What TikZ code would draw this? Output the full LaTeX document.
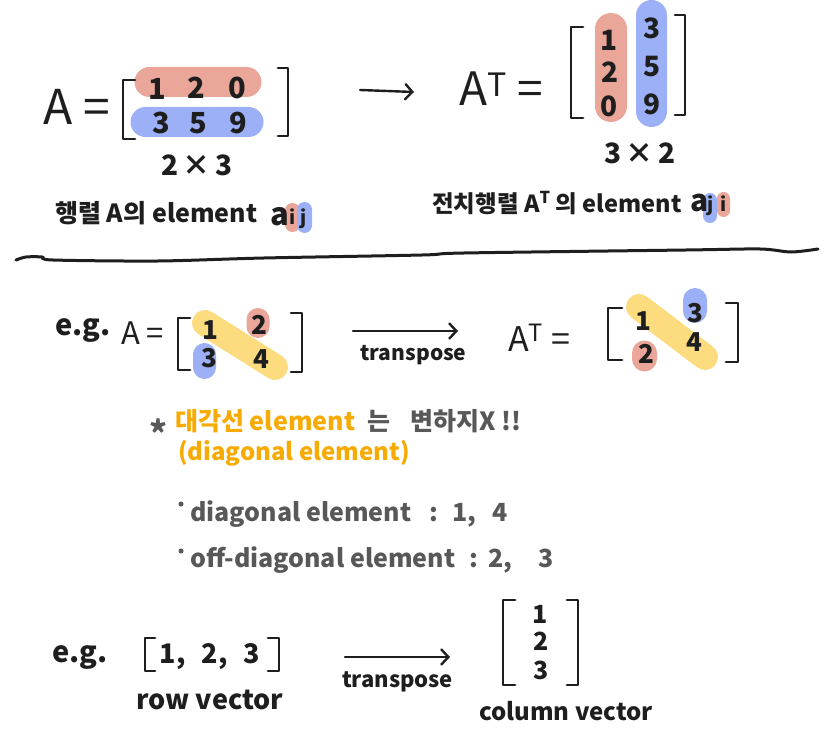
\documentclass[tikz,border=0pt]{standalone}
\usepackage{fontspec}
\setmainfont{Noto Sans CJK KR}
\usetikzlibrary{arrows.meta,positioning}
\definecolor{ink}{RGB}{30,30,30}
\definecolor{greyink}{RGB}{88,88,88}
\definecolor{hlorange}{RGB}{247,170,0}
\definecolor{pillred}{RGB}{234,166,153}
\definecolor{pillblue}{RGB}{155,176,246}
\definecolor{pillyellow}{RGB}{253,220,128}

\begin{document}
\begin{tikzpicture}[x=1pt,y=-1pt,
    every node/.style={inner sep=0pt,text=ink},
    fs/.style={font=\fontsize{#1}{#1}\selectfont\bfseries},
    fsr/.style={font=\fontsize{#1}{#1}\selectfont},
    pill/.style={rectangle,draw=none,rounded corners=#1},
    pill/.default=11pt,
    brk/.style={draw=ink,line width=2.8pt,line cap=round,line join=round},
    arr/.style={draw=ink,line width=2.4pt,line cap=round,
      -{Straight Barb[length=7pt,width=15pt,line cap=round]}},
    diag/.style={draw=pillyellow,line width=26pt,line cap=round},
    rule/.style={draw=ink,line width=3pt,line cap=round}]
  \useasboundingbox (0,0) rectangle (827,735);
  \fill[white] (0,0) rectangle (827,735);

  % A (2x3)
  \node[fsr=48] (A1) at (77,107) {A =};
  \node[pill=15pt,fill=pillred,minimum width=127pt,minimum height=30pt] (row1) at (198,82) {};
  \node[pill=15pt,fill=pillblue,minimum width=133pt,minimum height=30pt] (row2) at (197,122) {};
  \draw[brk] (135,80) -- (123,80) -- (123,139) -- (135,139);
  \draw[brk] (278,68) -- (288,68) -- (288,136) -- (278,136);
  \node[fs=29] (a11) at (157,89) {1};
  \node[fs=29] (a12) at (196,88) {2};
  \node[fs=29] (a13) at (237,88) {0};
  \node[fs=29] (a21) at (161,123) {3};
  \node[fs=29] (a22) at (198,123) {5};
  \node[fs=29] (a23) at (238,123) {9};
  \node[fs=28,below=17pt of row2] (dimA) {2\,×\,3};

  \node[fs=25,anchor=base west] (capA) at (55,223) {행렬 A의 element};
  \node[pill=7.5pt,fill=pillred,minimum width=15pt,minimum height=29pt] (pi1) at (292.5,217.5) {};
  \node[pill=7.5pt,fill=pillblue,minimum width=15pt,minimum height=31pt] (pj1) at (304.5,217.5) {};
  \node[fs=31,anchor=base west] (el1) at (270,226) {a};
  \node[fs=19,anchor=base] (i1) at (292.5,225) {i};
  \node[fs=19,anchor=base] (j1) at (304,225) {j};

  % arrow
  \coordinate (ar1s) at (360,90);
  \coordinate (ar1e) at (414,92);
  \draw[arr] (ar1s) -- (ar1e);

  % A^T (3x2)
  \node[fsr=46,anchor=base west] (AT1) at (459,106) {A\textsuperscript{T} =};
  \node[pill=16pt,fill=pillred,minimum width=32pt,minimum height=109pt] (col1) at (611,67.5) {};
  \node[pill=15.5pt,fill=pillblue,minimum width=31pt,minimum height=127pt] (col2) at (651.5,63.5) {};
  \draw[brk] (583,27) -- (571,27) -- (571,118) -- (583,118);
  \draw[brk] (675,15) -- (685,15) -- (685,115) -- (675,115);
  \node[fs=28] (b11) at (609,40) {1};
  \node[fs=28] (b21) at (610,72) {2};
  \node[fs=28] (b31) at (609,106) {0};
  \node[fs=28] (b12) at (652,28) {3};
  \node[fs=28] (b22) at (652,67) {5};
  \node[fs=28] (b32) at (652,104) {9};
  \node[fs=28] (dimAT) at (640,153) {3\,×\,2};

  \node[fs=23.5,anchor=base west] (capAT) at (432,213) {전치행렬 A\textsuperscript{T} 의 element};
  \node[pill=7pt,fill=pillblue,minimum width=14pt,minimum height=30pt] (pj2) at (710,208) {};
  \node[pill=6.5pt,fill=pillred,minimum width=13pt,minimum height=25pt] (pi2) at (723.5,204.5) {};
  \node[fs=30,anchor=base west] (el2) at (690,212) {a};
  \node[fs=19,anchor=base] (j2) at (711,212) {j};
  \node[fs=19,anchor=base] (i2) at (724,212) {i};

  % divider
  \draw[rule] plot[smooth] coordinates {(16,260) (26,257) (42,257) (53,260)
    (158,261) (264,258) (422,255) (464,253) (686,250) (760,249) (791,252) (818,249)};

  % e.g. 2x2
  \node[fs=29,anchor=base west] (eg1) at (55,335) {e.g.};
  \node[fsr=31,anchor=base west] (A2) at (121,344) {A =};
  \coordinate (d1s) at (205,323);
  \coordinate (d1e) at (275,367);
  \draw[diag] (d1s) -- (d1e);
  \node[pill=11.5pt,fill=pillred,minimum width=23pt,minimum height=30pt] (p12) at (258,323) {};
  \node[pill=11.5pt,fill=pillblue,minimum width=23pt,minimum height=36pt] (p21) at (204.5,361) {};
  \draw[brk] (190,318) -- (178,318) -- (178,370) -- (190,370);
  \draw[brk] (291,313) -- (302,313) -- (302,372) -- (291,372);
  \node[fs=26] (c11) at (210,330) {1};
  \node[fs=26] (c12) at (259,325) {2};
  \node[fs=26] (c21) at (209,358) {3};
  \node[fs=26] (c22) at (261,359) {4};

  \coordinate (ar2s) at (353,331);
  \coordinate (ar2e) at (458,331);
  \draw[arr] (ar2s) -- node[fs=21,below=13pt,xshift=8pt] (tp1) {transpose} (ar2e);

  \node[fsr=34,anchor=base west] (AT2) at (508,351) {A\textsuperscript{T} =};
  \coordinate (d2s) at (639,307);
  \coordinate (d2e) at (705,357);
  \draw[diag] (d2s) -- (d2e);
  \node[pill=12pt,fill=pillblue,minimum width=24pt,minimum height=35pt] (q12) at (695,305.5) {};
  \node[pill=12.5pt,fill=pillred,minimum width=25pt,minimum height=31pt] (q21) at (644.5,356) {};
  \draw[brk] (622,308) -- (608,308) -- (608,360) -- (622,360);
  \draw[brk] (726,303) -- (738,303) -- (738,362) -- (726,362);
  \node[fs=26] (e11) at (643,321) {1};
  \node[fs=26] (e12) at (695,313) {3};
  \node[fs=26] (e21) at (646,354) {2};
  \node[fs=26] (e22) at (694,342) {4};

  % note
  \node[fs=34,anchor=base,text=greyink] (star) at (158,446) {*};
  \node[fs=25,anchor=base west,text=hlorange] (note1) at (175,430)
    {대각선 element\hspace{12pt}\textcolor{greyink}{는\hspace{20pt}변하지X !!}};
  \node[fs=24,anchor=base west,text=hlorange] (note2) at (178,460) {(diagonal element)};
  \node[circle,fill=greyink,minimum size=5pt] (dot1) at (181,504) {};
  \node[fs=25,anchor=base west,text=greyink] (diag1) at (190,521)
    {diagonal element\hspace{18pt}:\hspace{14pt}1,\hspace{16pt}4};
  \node[circle,fill=greyink,minimum size=5pt] (dot2) at (181,551) {};
  \node[fs=25,anchor=base west,text=greyink] (diag2) at (190,567)
    {off-diagonal element\hspace{14pt}:\hspace{10pt}2,\hspace{26pt}3};

  % e.g. vector
  \node[fs=29,anchor=base west] (eg2) at (52,662) {e.g.};
  \draw[brk] (155,638) -- (145,638) -- (145,671) -- (155,671);
  \draw[brk] (268,638) -- (279,638) -- (279,671) -- (268,671);
  \node[fs=27] (rowv) at (210,657) {1,\hspace{16pt}2,\hspace{16pt}3};
  \node[fs=27,below=20pt of rowv] (rowlab) {row vector};

  \coordinate (ar3s) at (345,657);
  \coordinate (ar3e) at (450,657);
  \draw[arr] (ar3s) -- node[fs=22,below=13pt] (tp2) {transpose} (ar3e);

  \draw[brk] (515,600) -- (503,600) -- (503,685) -- (515,685);
  \draw[brk] (567,600) -- (578,600) -- (578,685) -- (567,685);
  \node[fs=25] (v1) at (540,614) {1};
  \node[fs=25] (v2) at (541,641) {2};
  \node[fs=25] (v3) at (541,670) {3};
  \node[fs=24] (collab) at (566,711) {column vector};
\end{tikzpicture}
\end{document}
